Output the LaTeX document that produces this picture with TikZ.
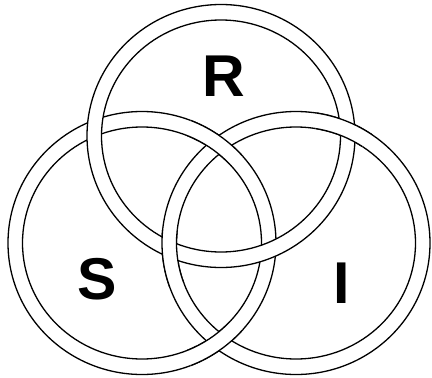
\documentclass[tikz,border=0pt]{standalone}
\usepackage{fontspec}
\setmainfont{Liberation Sans}
\begin{document}
\begin{tikzpicture}[x=1pt,y=-1pt,
  edge/.style={line width=1.3pt,black},
  lbl/.style={inner sep=0pt,font=\fontsize{59}{59}\selectfont\bfseries}]
\useasboundingbox (0,0) rectangle (432,378);
\fill[white] (0,0) rectangle (432,378);
\def\ring#1{%
  \fill[white,even odd rule] #1 ellipse [x radius=134,y radius=131.5]
        #1 ellipse [x radius=119.5,y radius=116];
  \draw[edge] #1 ellipse [x radius=134,y radius=131.5];
  \draw[edge] #1 ellipse [x radius=119.5,y radius=116];}
\coordinate (cR) at (221,136);
\coordinate (cS) at (142,243);
\coordinate (cI) at (296,243);
% base layering: S under I under R
\ring{(cS)}
\ring{(cI)}
\ring{(cR)}
% S over I at both S-I crossings
\begin{scope}
  \clip (219,135) circle (32);
  \ring{(cS)}
\end{scope}
\begin{scope}
  \clip (219,351) circle (32);
  \ring{(cS)}
\end{scope}
% I over R at both R-I crossings
\begin{scope}
  \clip (168,258) circle (30);
  \ring{(cI)}
\end{scope}
\begin{scope}
  \clip (345,122) circle (30);
  \ring{(cI)}
\end{scope}
\node[lbl] (R) at (224,76) {R};
\node[lbl] (S) at (97,279) {S};
\node[lbl] (I) at (342,283.5) {I};
\end{tikzpicture}
\end{document}
